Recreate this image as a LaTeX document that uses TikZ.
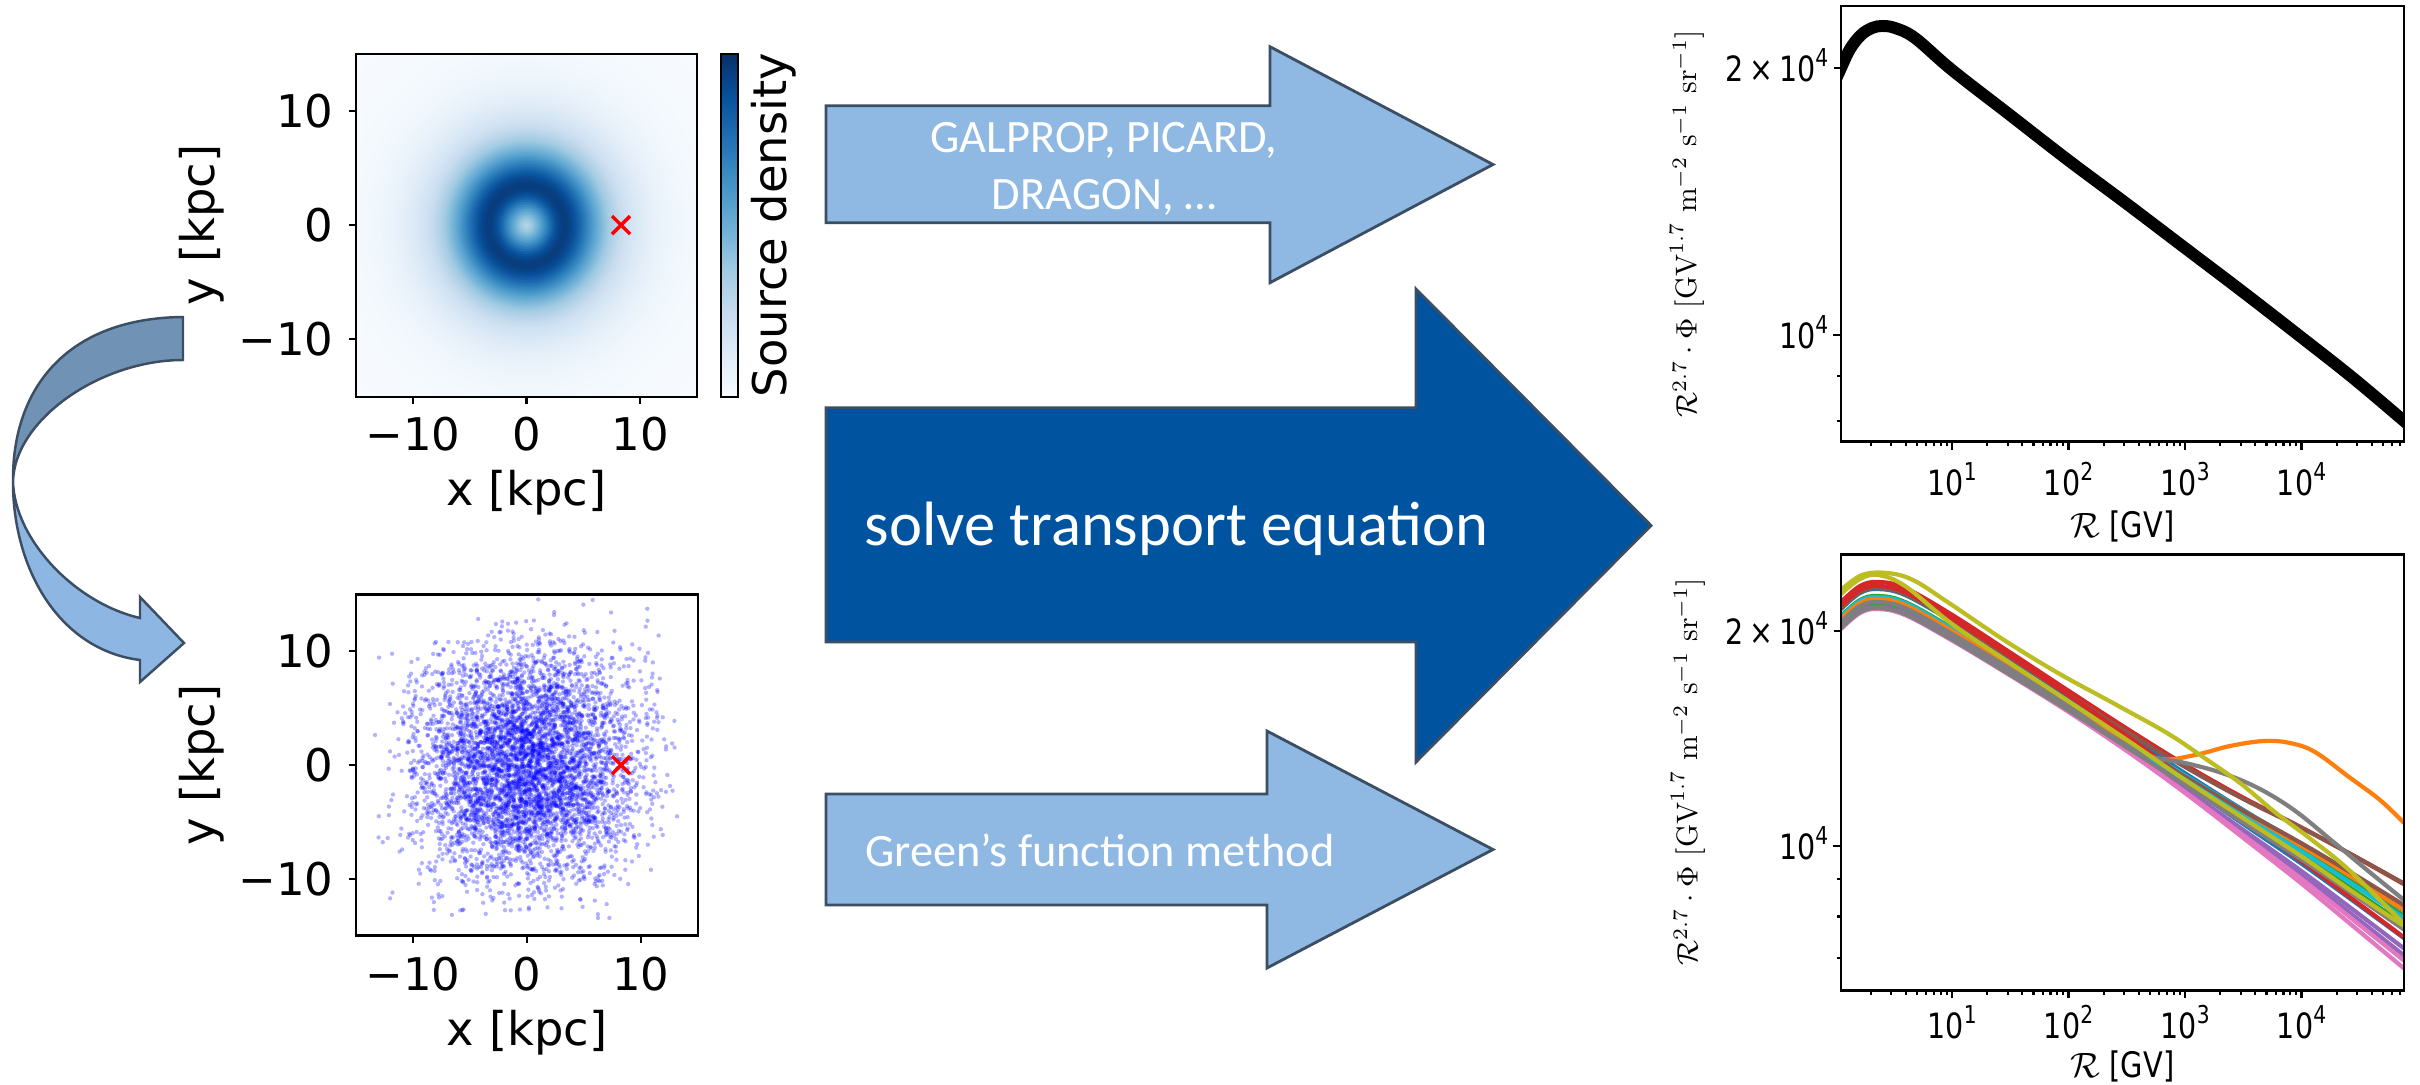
\documentclass[tikz,border=0pt]{standalone}
\usepackage{fontspec}
\usepackage{graphicx}
\newfontfamily\mpl{DejaVu Sans}
\newfontfamily\mplc{DejaVu Sans}[FakeStretch=0.82]
\newfontfamily\carl{Carlito}
% matplotlib "Blues"
\definecolor{B0}{RGB}{247,251,255}
\definecolor{B1}{RGB}{222,235,247}
\definecolor{B2}{RGB}{198,219,239}
\definecolor{B3}{RGB}{158,202,225}
\definecolor{B4}{RGB}{107,174,214}
\definecolor{B5}{RGB}{66,146,198}
\definecolor{B6}{RGB}{33,113,181}
\definecolor{B7}{RGB}{8,81,156}
\definecolor{B8}{RGB}{8,48,107}
% tab10
\definecolor{tabblue}{HTML}{1F77B4}
\definecolor{taborange}{HTML}{FF7F0E}
\definecolor{tabgreen}{HTML}{2CA02C}
\definecolor{tabred}{HTML}{D62728}
\definecolor{tabpurple}{HTML}{9467BD}
\definecolor{tabbrown}{HTML}{8C564B}
\definecolor{tabpink}{HTML}{E377C2}
\definecolor{tabgray}{HTML}{7F7F7F}
\definecolor{tabolive}{HTML}{BCBD22}
\definecolor{tabcyan}{HTML}{17BECF}
% arrows
\definecolor{arrowlight}{RGB}{143,185,227}
\definecolor{arrowdark}{RGB}{0,83,159}
\definecolor{arrowline}{RGB}{60,78,99}
\definecolor{curvback}{RGB}{112,146,180}
\definecolor{curvfront}{RGB}{141,182,226}

\newcommand\bluesmap[1]{%
  \pgfmathsetmacro\cmV{max(0,min(0.9999,#1))}%
  \pgfmathtruncatemacro\cmI{floor(\cmV*8)}%
  \pgfmathtruncatemacro\cmP{round((\cmV*8-\cmI)*100)}%
  \pgfmathtruncatemacro\cmJ{\cmI+1}%
  \colorlet{cc}{B\cmJ!\cmP!B\cmI}}
\newcommand\sups[1]{\raisebox{0.42em}{\fontsize{7}{8}\selectfont #1}}
\newcommand\gencurve[3]{%
  \draw[spec, color=#1] plot[smooth, tension=0.6] coordinates {
   (1841,{618+(#2)}) (1860,{602+(#2)}) (1878,{598+(#2)}) (1905,{604+(#2)})
   (1952,{630+0.95*(#2)}) (2010,{666+0.85*(#2)}) (2068,{703+0.7*(#2)+0.03*(#3)})
   (2127,{742+0.55*(#2)+0.1*(#3)}) (2185,{781+0.4*(#2)+0.22*(#3)})
   (2243,{820+0.28*(#2)+0.4*(#3)}) (2301,{858+0.18*(#2)+0.62*(#3)})
   (2353,{894+0.1*(#2)+0.82*(#3)}) (2404,{930+0.05*(#2)+(#3)})};}
\newcommand\logxticks[1]{%
  \foreach \dd in {0,...,4}{\foreach \mm in {2,...,9}{%
    \pgfmathsetmacro\tkx{1835.5+116.5*(\dd+log10(\mm))}%
    \ifdim\tkx pt<2404pt \draw[tickmark] (\tkx,#1) -- (\tkx,#1+4.5); \fi}}%
  \foreach \tkx in {1952,2068.5,2185,2301.5}{\draw[tickmark] (\tkx,#1) -- (\tkx,#1+8);}}

\tikzset{
  axframe/.style={draw=black, line width=0.7pt},
  tickmark/.style={line width=0.6pt},
  ltick/.style={font=\mpl\fontsize{12.8}{15}\selectfont, inner sep=0pt},
  llab/.style={font=\mpl\fontsize{13.2}{16}\selectfont, inner sep=0pt},
  rtick/.style={font=\mplc\fontsize{9.9}{12}\selectfont, inner sep=0pt},
  rlab/.style={font=\mplc\fontsize{10}{12}\selectfont, inner sep=0pt},
  lightarrow/.style={fill=arrowlight, draw=arrowline, line width=0.8pt, line join=miter},
  darkarrow/.style={fill=arrowdark, draw=arrowline, line width=0.8pt, line join=miter},
  arrtext/.style={text=white, inner sep=0pt},
  curvline/.style={draw=arrowline, line width=0.7pt, line join=miter},
  redx/.style={draw=red, line width=1pt},
  spec/.style={line width=1.2pt, line cap=butt},
  scat/.style={fill=blue, fill opacity=0.3},
}

\begin{document}
\begin{tikzpicture}[x=0.01cm, y=-0.01cm]
\fill[white] (0,0) rectangle (2420,1084);
\useasboundingbox (0,0) rectangle (2420,1084);

%================ top-left: source density map ================
\begin{scope}
  \clip (356,54) rectangle (697,397);
  \fill[B0] (356,54) rectangle (697,397);
  \begin{scope}[shift={(526.5,225.5)}, x=0.1137cm, y=0.1137cm]
    \foreach \i in {110,109,...,1}{%
      \pgfmathsetmacro\rad{\i*0.2}%
      \pgfmathsetmacro\rady{1.04*\rad}%
      \pgfmathsetmacro\dd{\rad-3.4}%
      \pgfmathsetmacro\hh{sqrt(1+\dd*\dd/4)-1}%
      \pgfmathsetmacro\val{0.95*exp(-ifthenelse(\dd<0,1.26,0.8)*\hh)}%
      \bluesmap{\val}%
      \fill[cc] (0,0) ellipse[x radius=\rad, y radius=\rady];}
  \end{scope}
\end{scope}
\draw[redx] (612,216) -- (630,234) (612,234) -- (630,216);
\draw[axframe] (356,54) rectangle (697,397);
\foreach \yy/\lab [count=\n] in {111/10,225/0,339/{−10}}{
  \draw[tickmark] (356,\yy) -- (349,\yy);
  \node[ltick, anchor=east] (tly\n) at (334,\yy) {\lab};}
\foreach \xx/\lab [count=\n] in {412.8/{−10},526.5/0,640.2/10}{
  \draw[tickmark] (\xx,397) -- (\xx,404);
  \node[ltick] (tlx\n) at (\xx,434) {\lab};}
\node[llab] (tlxlab) at (526.5,493) {x [kpc]};
\node[llab, rotate=90] (tlylab) at (202,225) {y [kpc]};
% colorbar
\foreach \k in {0,...,7}{%
  \pgfmathtruncatemacro\kn{\k+1}%
  \shade[bottom color=B\k, top color=B\kn] (721,{397-42.875*\k}) rectangle (738,{397-42.875*(\k+1)});}
\draw[line width=0.5pt] (721,54) rectangle (738,397);
\node[llab, rotate=90] (cblab) at (774,225) {Source density};

%================ bottom-left: sampled sources ================
\begin{scope}
  \clip (356,594.5) rectangle (698,935.6);
  \begin{scope}[shift={(527,765)}, x=0.114cm, y=0.114cm]
    \pgfmathsetseed{7}
    \foreach \k in {1,...,5000}{%
      \pgfmathsetmacro\sx{4.8*(rand+rand+rand)}%
      \pgfmathsetmacro\sy{5.0*(rand+rand+rand)}%
      \fill[scat] (\sx,\sy) circle[radius=0.19];}
  \end{scope}
\end{scope}
\draw[redx] (612,756) -- (630,774) (612,774) -- (630,756);
\draw[axframe] (356,594.5) rectangle (698,935.6);
\foreach \yy/\lab [count=\n] in {651/10,765/0,879/{−10}}{
  \draw[tickmark] (356,\yy) -- (349,\yy);
  \node[ltick, anchor=east] (bly\n) at (334,\yy) {\lab};}
\foreach \xx/\lab [count=\n] in {413/{−10},527/0,641/10}{
  \draw[tickmark] (\xx,935.6) -- (\xx,942.6);
  \node[ltick] (blx\n) at (\xx,974) {\lab};}
\node[llab] (blxlab) at (527,1033) {x [kpc]};
\node[llab, rotate=90] (blylab) at (202,765) {y [kpc]};

%================ curved arrow (left) ================
\draw[curvline, fill=curvback] (183,317) .. controls (70,318) and (12,385) .. (13,482)
   .. controls (14,420) and (100,360) .. (183,360) -- cycle;
\draw[curvline, fill=curvfront] (13,482) .. controls (15,540) and (75,603) .. (140,618)
   -- (140,597) -- (184,643) -- (140,682) -- (140,660)
   .. controls (60,650) and (13,570) .. (13,482) -- cycle;

%================ middle arrows ================
\draw[lightarrow] (826,105.7) -- (1270,105.7) -- (1270,46.7) -- (1493,164.5)
   -- (1270,282.7) -- (1270,222.7) -- (826,222.7) -- cycle;
\node[arrtext, font=\carl\fontsize{13.2}{16}\selectfont, anchor=base] (galprop1) at (1104,152) {GALPROP, PICARD,};
\node[arrtext, font=\carl\fontsize{13.2}{16}\selectfont, anchor=base] (galprop2) at (1104,209) {DRAGON, …};

\draw[darkarrow] (826,407.7) -- (1416,407.7) -- (1416,289) -- (1651,525.5)
   -- (1416,762) -- (1416,642) -- (826,642) -- cycle;
\node[arrtext, font=\carl\fontsize{17.8}{21}\selectfont, anchor=base west] (solve) at (864,545) {solve transport equation};

\draw[lightarrow] (826,794) -- (1267,794) -- (1267,731) -- (1493,849.5)
   -- (1267,968) -- (1267,905) -- (826,905) -- cycle;
\node[arrtext, font=\carl\fontsize{13.2}{16}\selectfont, anchor=base west] (green) at (864.5,866) {Green’s function method};

%================ top-right: single spectrum ================
\begin{scope}
  \clip (1841,6) rectangle (2404,441.5);
  \draw[line width=3.4pt] plot[smooth, tension=0.6] coordinates {
    (1832,88) (1841,68) (1850,49) (1861,35) (1872,28) (1882,26) (1895,28) (1915,38)
    (1952,70) (2010,115) (2068,160) (2127,204) (2185,248) (2243,292) (2301,337)
    (2353,378) (2404,421) (2412,428)};
\end{scope}
\draw[axframe] (1841,6) rectangle (2404,441.5);
\logxticks{441.5}
\foreach \tkx/\e [count=\n] in {1952/1,2068.5/2,2185/3,2301.5/4}{
  \node[rtick, anchor=base] (trx\n) at (\tkx,495) {10\sups{\e}};}
\draw[tickmark] (1841,68) -- (1834,68) (1841,335) -- (1833,335)
   (1841,376) -- (1836.5,376) (1841,421) -- (1836.5,421);
\node[rtick, anchor=base east] (try1) at (1829,81) {2\,×\,10\sups{4}};
\node[rtick, anchor=base east] (try2) at (1829,348) {10\sups{4}};
\node[rlab, anchor=base] (trxlab) at (2122.5,537) {$\mathcal{R}$ [GV]};
\node[rotate=90, inner sep=0pt] (trylab) at (1687,224)
  {\resizebox{3.87cm}{!}{$\mathcal{R}^{2.7}\cdot\Phi\ [\mathrm{GV}^{1.7}\ \mathrm{m}^{-2}\ \mathrm{s}^{-1}\ \mathrm{sr}^{-1}]$}};

%================ bottom-right: many spectra ================
\begin{scope}
  \clip (1841,554.6) rectangle (2404,990.4);
  \foreach \c/\L/\H in {tabblue/-9/-19, tabgreen/-2/-14, tabred/-16/-45, tabpurple/7/25,
      tabbrown/-10/-46, tabpink/9/38, tabcyan/-1/-23, tabblue/2/8, taborange/1/-20,
      tabgreen/5/-6, tabred/-12/8, tabpurple/9/18, tabbrown/3/-25, tabpink/11/30,
      tabgray/10/-1, tabcyan/3/-12}{\gencurve{\c}{\L}{\H}}
  % orange with bump
  \draw[spec, taborange] plot[smooth, tension=0.6] coordinates {
    (1841,620) (1860,604) (1878,600) (1905,606) (1952,632) (2010,668) (2068,704)
    (2127,743) (2160,759) (2195,755) (2230,746) (2264,741) (2290,743) (2315,752)
    (2349,777) (2380,800) (2404,823)};
  % gray with hump
  \draw[spec, tabgray] plot[smooth, tension=0.6] coordinates {
    (1841,622) (1860,606) (1878,602) (1905,608) (1952,634) (2010,669) (2068,706)
    (2110,735) (2149,756) (2185,763) (2222,773) (2258,788) (2294,810) (2331,840)
    (2367,870) (2404,900)};
  % olive, high
  \draw[spec, tabolive] plot[smooth, tension=0.6] coordinates {
    (1841,590) (1862,575) (1887,573) (1913,580) (1949,603) (2004,640) (2058,673)
    (2113,703) (2167,733) (2203,757) (2240,783) (2276,813) (2312,840) (2349,870)
    (2404,924)};
  % olive, second
  \draw[spec, tabolive] plot[smooth, tension=0.6] coordinates {
    (1841,594) (1860,579) (1878,575) (1905,586) (1952,624) (2010,663) (2068,701)
    (2127,740) (2185,780) (2243,818) (2301,856) (2353,892) (2404,926)};
\end{scope}
\draw[axframe] (1841,554.6) rectangle (2404,990.4);
\logxticks{990.4}
\foreach \tkx/\e [count=\n] in {1952/1,2068.5/2,2185/3,2301.5/4}{
  \node[rtick, anchor=base] (brx\n) at (\tkx,1038) {10\sups{\e}};}
\draw[tickmark] (1841,631) -- (1834,631) (1841,846) -- (1833,846)
   (1841,879) -- (1836.5,879) (1841,916.5) -- (1836.5,916.5) (1841,958) -- (1836.5,958);
\node[rtick, anchor=base east] (bry1) at (1829,644) {2\,×\,10\sups{4}};
\node[rtick, anchor=base east] (bry2) at (1829,859) {10\sups{4}};
\node[rlab, anchor=base] (brxlab) at (2122.5,1077) {$\mathcal{R}$ [GV]};
\node[rotate=90, inner sep=0pt] (brylab) at (1688,772)
  {\resizebox{3.87cm}{!}{$\mathcal{R}^{2.7}\cdot\Phi\ [\mathrm{GV}^{1.7}\ \mathrm{m}^{-2}\ \mathrm{s}^{-1}\ \mathrm{sr}^{-1}]$}};
\end{tikzpicture}
\end{document}
